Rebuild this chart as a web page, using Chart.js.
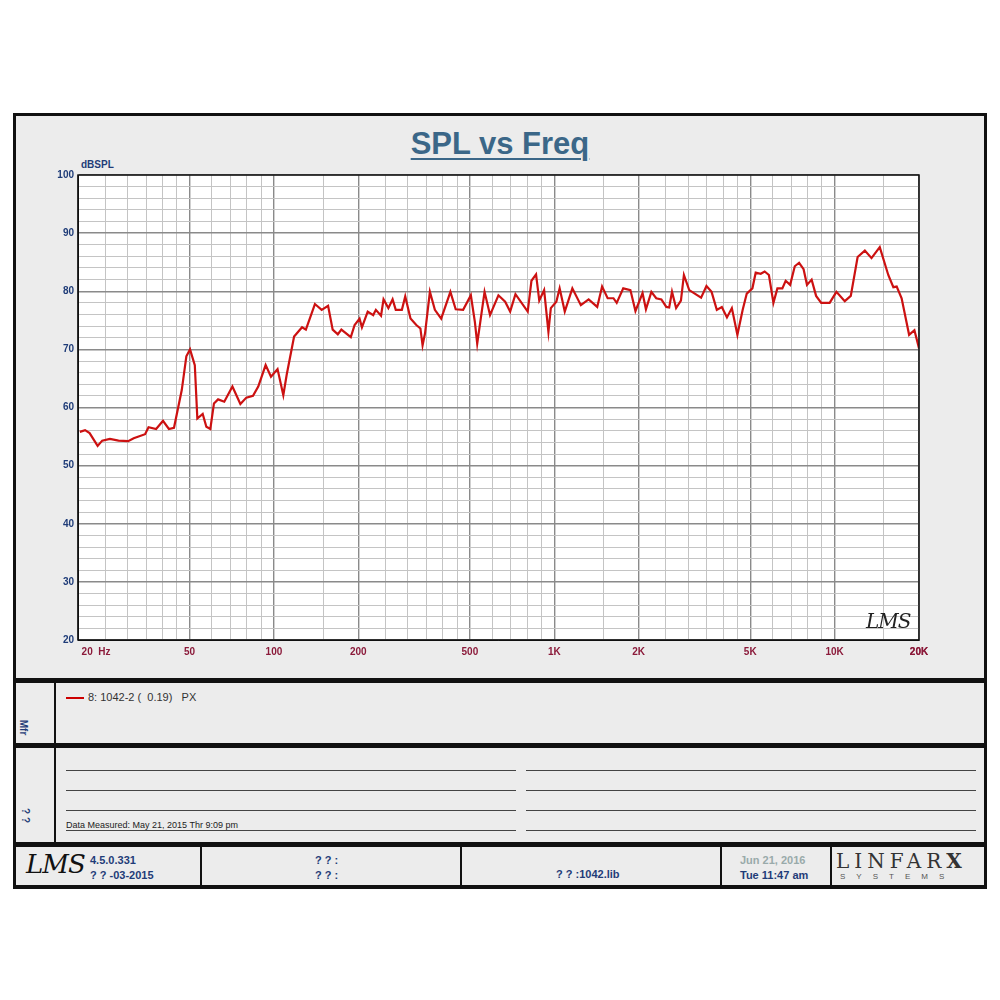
<!DOCTYPE html>
<html>
<head>
<meta charset="utf-8">
<script src="https://cdn.jsdelivr.net/npm/chart.js@4.4.1/dist/chart.umd.min.js"></script>
<style>
  body { margin: 0; background: #fff; font-family: 'Liberation Sans', Arial, sans-serif; }
  #page { position: relative; width: 1000px; height: 1000px; }
  .abs { position: absolute; }
  .box { position: absolute; background: #ececec; }
  .bar { position: absolute; background: #111; }
  .rule { position: absolute; height: 1px; background: #444; }
  .navy { color: #1f3c78; font-weight: bold; }
</style>
</head>
<body>
<div id="page">
  <div class="box" style="left:13px;top:113px;width:974px;height:776px;background:#111"></div>
  <div class="box" style="left:16px;top:116px;width:968px;height:562px"></div>
  <div class="box" style="left:16px;top:683px;width:968px;height:60px"></div>
  <div class="box" style="left:16px;top:748px;width:968px;height:94px"></div>
  <div class="box" style="left:16px;top:847px;width:968px;height:38px"></div>
  <div class="bar" style="left:54px;top:683px;width:2px;height:159px"></div>
  <div class="bar" style="left:200px;top:847px;width:2px;height:38px"></div>
  <div class="bar" style="left:460px;top:847px;width:2px;height:38px"></div>
  <div class="bar" style="left:720px;top:847px;width:2px;height:38px"></div>
  <div class="bar" style="left:830px;top:847px;width:2px;height:38px"></div>

  <div class="abs" style="left:0;width:1000px;top:126px;text-align:center;font:bold 31px 'Liberation Sans',Arial;color:#3b6788;"><span style="text-decoration:underline;text-decoration-thickness:2px;text-underline-offset:4px">SPL vs Freq</span></div>
  <div class="abs navy" style="left:81px;top:159px;font-size:10px">dBSPL</div>
  <canvas id="spl" class="abs" style="left:15px;top:160px;width:970px;height:520px"></canvas>
  <div class="abs" style="left:866px;top:609px;font:italic 20px 'DejaVu Serif',serif;color:#222;letter-spacing:-1px">LMS</div>

  <div class="abs" style="left:66px;top:691px;font-size:11px;color:#333"><span style="display:inline-block;width:18px;height:2px;background:#c00;vertical-align:middle;margin-right:4px"></span>8: 1042-2 (&nbsp; 0.19)&nbsp;&nbsp; PX</div>
  <div class="abs navy" style="left:16px;top:722px;font-size:10px;transform:rotate(90deg)">Mfr</div>
  <div class="abs navy" style="left:18px;top:810px;font-size:10px;transform:rotate(90deg)">? ?</div>
  <div class="rule" style="left:66px;top:770px;width:450px"></div>
  <div class="rule" style="left:526px;top:770px;width:450px"></div>
  <div class="rule" style="left:66px;top:790px;width:450px"></div>
  <div class="rule" style="left:526px;top:790px;width:450px"></div>
  <div class="rule" style="left:66px;top:810px;width:450px"></div>
  <div class="rule" style="left:526px;top:810px;width:450px"></div>
  <div class="rule" style="left:66px;top:830px;width:450px"></div>
  <div class="rule" style="left:526px;top:830px;width:450px"></div>
  <div class="abs" style="left:66px;top:820px;font-size:9px;color:#222">Data Measured: May 21, 2015 Thr 9:09 pm</div>

  <div class="abs" style="left:26px;top:849px;font:italic 26px 'DejaVu Serif',serif;color:#111;letter-spacing:-1px">LMS</div>
  <div class="abs navy" style="left:90px;top:853px;font-size:11px;line-height:15px">4.5.0.331<br>? ? -03-2015</div>
  <div class="abs navy" style="left:315px;top:853px;font-size:11px;line-height:15px">? ? :<br>? ? :</div>
  <div class="abs navy" style="left:556px;top:868px;font-size:11px">? ? :1042.lib</div>
  <div class="abs navy" style="left:740px;top:853px;font-size:11px;line-height:15px"><span style="color:#9aa">Jun 21, 2016</span><br>Tue 11:47 am</div>
  <div class="abs" style="left:836px;top:849px;font:20px 'DejaVu Serif',serif;color:#333;letter-spacing:5px">LINFAR<b>X</b></div>
  <div class="abs" style="left:840px;top:872px;font-size:8px;color:#555;letter-spacing:11px">SYSTEMS</div>
</div>
<script>
const freqs = [20.3, 21.2, 22.0, 23.5, 24.4, 26.0, 27.9, 30.2, 31.6, 34.7, 35.7, 38.0, 40.2, 42.2, 44.0, 46.9, 48.7, 50.2, 52.2, 53.3,
  55.7, 57.4, 59.3, 61.1, 63.2, 66.5, 71.1, 75.9, 79.7, 84.2, 87.9, 93.4, 97.6, 103, 108, 111, 118, 126, 130, 140,
  148, 156, 162, 169, 174, 188, 194, 202, 206, 216, 226, 231, 241, 246, 256, 265, 272, 286, 294, 307,
  322, 333, 339, 346, 360, 375, 395, 426, 445, 473, 504, 521, 531, 564, 590, 632, 668, 696, 727, 804,
  829, 861, 884, 920, 953, 972, 1017, 1045, 1090, 1160, 1244, 1326, 1423, 1481, 1550, 1626, 1670, 1762, 1869, 1948,
  2065, 2123, 2220, 2310, 2410, 2510, 2570, 2630, 2720, 2830, 2900, 3030, 3340, 3490, 3640, 3800, 3960, 4130, 4300, 4500,
  4700, 4860, 5090, 5230, 5450, 5630, 5830, 6050, 6250, 6510, 6690, 6940, 7210, 7470, 7750, 7970, 8280, 8590, 8960, 9600,
  10150, 10870, 11420, 12080, 12820, 13540, 14490, 15540, 16200, 16650, 17340, 18440, 19260, 20000];
const spl = [55.8, 56.1, 55.6, 53.4, 54.3, 54.6, 54.3, 54.2, 54.7, 55.4, 56.6, 56.3, 57.7, 56.3, 56.5, 63.0, 68.8, 70.0, 67.3, 58.1,
  58.9, 56.7, 56.3, 60.7, 61.4, 61.0, 63.6, 60.6, 61.7, 62.0, 63.6, 67.3, 65.3, 66.6, 62.1, 65.6, 72.2, 73.8, 73.4, 77.8,
  76.8, 77.5, 73.4, 72.6, 73.4, 72.1, 74.2, 75.3, 73.8, 76.5, 75.9, 76.8, 75.8, 78.6, 77.1, 78.6, 76.8, 76.8, 79.1, 75.3,
  74.2, 73.6, 70.7, 72.8, 79.9, 76.8, 75.3, 79.9, 76.9, 76.8, 79.3, 74.7, 71.0, 79.9, 75.9, 79.3, 78.2, 76.5, 79.5, 76.5,
  81.8, 82.9, 78.4, 80.2, 73.0, 77.1, 78.2, 80.5, 76.5, 80.5, 77.6, 78.6, 77.3, 80.8, 78.8, 78.8, 78.0, 80.5, 80.2, 76.6,
  79.7, 76.9, 79.9, 78.8, 78.6, 77.3, 77.2, 79.9, 77.1, 78.4, 82.8, 80.2, 78.9, 80.9, 79.9, 76.8, 77.3, 75.5, 77.1, 72.5,
  76.8, 79.6, 80.5, 83.2, 83.0, 83.4, 82.8, 78.0, 80.5, 80.5, 81.8, 81.1, 84.3, 84.9, 83.8, 81.1, 82.0, 79.2, 78.0, 78.0,
  79.9, 78.3, 79.2, 85.9, 87.0, 85.7, 87.6, 82.8, 80.7, 80.8, 78.8, 72.5, 73.3, 70.2];

const xLabels = { 20: '             20  Hz', 50: '50', 100: '100', 200: '200', 500: '500', 1000: '1K', 2000: '2K', 5000: '5K', 10000: '10K', 20000: '20K' };
const yMajor = [20, 30, 40, 50, 60, 70, 80, 90, 100];

// every 1..9 multiple plus half steps, like the LMS grid
const xGrid = [];
[10, 100, 1000, 10000].forEach(d => {
  [1, 1.5, 2, 2.5, 3, 3.5, 4, 4.5, 5, 6, 7, 8, 9].forEach(m => {
    const v = Math.round(d * m);
    if (v >= 20 && v <= 20000) xGrid.push(v);
  });
});
xGrid.push(20000);
const xMajor = [20, 50, 100, 200, 500, 1000, 2000, 5000, 10000, 20000];

const frame = {
  id: 'frame',
  beforeDraw(chart) {
    const { ctx, chartArea: a } = chart;
    ctx.save();
    ctx.fillStyle = '#fff';
    ctx.fillRect(a.left, a.top, a.right - a.left, a.bottom - a.top);
    ctx.restore();
  },
  afterDraw(chart) {
    const { ctx, chartArea: a } = chart;
    ctx.save();
    ctx.strokeStyle = '#111';
    ctx.lineWidth = 1.5;
    ctx.strokeRect(a.left, a.top, a.right - a.left, a.bottom - a.top);
    ctx.restore();
  }
};

new Chart(document.getElementById('spl'), {
  type: 'line',
  data: {
    datasets: [{
      data: freqs.map((f, i) => ({ x: f, y: spl[i] })),
      borderColor: '#cc1111',
      borderWidth: 2.2,
      pointRadius: 0,
      tension: 0,
    }]
  },
  options: {
    responsive: false,
    animation: false,
    events: [],
    layout: { padding: { top: 15, right: 66, left: 0, bottom: 0 } },
    plugins: { legend: { display: false }, tooltip: { enabled: false } },
    scales: {
      x: {
        type: 'logarithmic', min: 20, max: 20000,
        afterBuildTicks: s => { s.ticks = xGrid.map(v => ({ value: v })); },
        afterFit: s => { s.height = 40; },
        grid: {
          color: c => xMajor.includes(c.tick.value) ? '#8a8a8a' : '#c4c4c4',
          lineWidth: c => xMajor.includes(c.tick.value) ? 1.4 : 1,
          drawTicks: false,
        },
        border: { color: '#111' },
        ticks: {
          autoSkip: false, maxRotation: 0, padding: 6,
          color: '#8b1a3a', font: { size: 10, weight: 'bold', family: "'Liberation Sans', Arial" },
          callback: v => xLabels[v] || '',
        }
      },
      y: {
        min: 20, max: 100,
        afterBuildTicks: s => { s.ticks = []; for (let v = 20; v <= 100; v += 2) s.ticks.push({ value: v }); },
        afterFit: s => { s.width = 63; },
        grid: {
          color: c => yMajor.includes(c.tick.value) ? '#8a8a8a' : '#c4c4c4',
          lineWidth: c => yMajor.includes(c.tick.value) ? 1.4 : 1,
          drawTicks: false,
        },
        border: { color: '#111' },
        ticks: {
          autoSkip: false, padding: 4,
          color: '#1f3c78', font: { size: 10, weight: 'bold', family: "'Liberation Sans', Arial" },
          callback: v => yMajor.includes(v) ? String(v) : '',
        }
      }
    }
  },
  plugins: [frame]
});
</script>
</body>
</html>
